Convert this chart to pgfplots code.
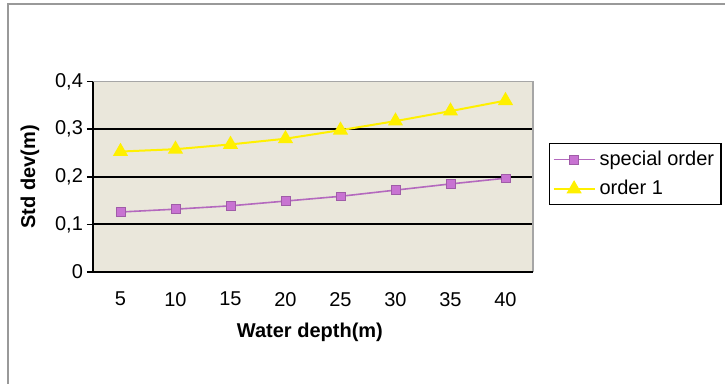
\documentclass[border=0pt]{standalone}
\usepackage{pgfplots}
\pgfplotsset{compat=1.18}
\usepackage{fontspec}
\setmainfont{Liberation Sans}
\definecolor{plotbg}{RGB}{234,231,219}
\definecolor{sqpurple}{RGB}{200,115,210}
\definecolor{sqline}{RGB}{180,105,190}
\definecolor{triyel}{RGB}{255,240,0}
\begin{document}
\begin{tikzpicture}
\useasboundingbox (-46.5pt,-56pt) rectangle (316pt,136pt);
\draw[gray!80, line width=0.8pt] (-42.5pt,-56pt) -- (-42.5pt,134pt) -- (316pt,134pt);
\begin{axis}[
  at={(0pt,0pt)}, anchor=south west,
  scale only axis, width=220pt, height=95.2pt,
  xmin=2.5, xmax=42.5, ymin=0, ymax=0.4,
  axis background/.style={fill=plotbg},
  axis line style={draw=none},
  xtick pos=bottom, ytick pos=left,
  xtick={5,10,...,40},
  major x tick style={draw=none},
  extra x ticks={2.5,7.5,...,42.5},
  extra x tick labels={},
  extra x tick style={major tick length=5pt, tick style={black, line width=0.8pt}},
  ytick={0,0.1,...,0.4},
  yticklabel style={xshift=1.5pt, /pgf/number format/.cd, fixed, precision=1, use comma},
  /pgf/number format/assume math mode=true,
  tick align=outside,
  major tick length=3pt,
  tick style={black, line width=0.8pt},
  ticklabel style={font=\fontsize{10}{12}\selectfont},
  xticklabel style={yshift=-3.5pt},
  xlabel={\textbf{Water depth(m)}},
  ylabel={\textbf{Std dev(m)}},
  label style={font=\fontsize{10}{12}\selectfont},
  xlabel style={at={(axis description cs:0.493,-0.315)}, anchor=center},
  ylabel style={at={(axis description cs:-0.143,0.5)}, anchor=center},
  clip=false,
  legend style={at={(axis description cs:1.036,0.678)}, anchor=north west,
    draw=black, line width=0.8pt, fill=white, font=\fontsize{10}{12}\selectfont,
    inner sep=1.5pt, row sep=2pt, cells={anchor=west}},
  legend image code/.code={
    \draw[mark repeat=2,mark phase=2] plot coordinates {(0cm,0cm) (0.36cm,0cm) (0.72cm,0cm)};},
]
\draw[black, line width=1pt] (axis cs:2.5,0.1) -- (axis cs:42.5,0.1);
\draw[black, line width=1pt] (axis cs:2.5,0.2) -- (axis cs:42.5,0.2);
\draw[black, line width=1pt] (axis cs:2.5,0.3) -- (axis cs:42.5,0.3);
\draw[gray!70, line width=0.6pt] (rel axis cs:0,1) -- (rel axis cs:1,1) -- (rel axis cs:1,0);
\draw[black, line width=1pt] (rel axis cs:0,1) -- (rel axis cs:0,0) -- (rel axis cs:1,0);
\addplot[sqline, line width=0.8pt, mark=square*, mark size=2.2pt, mark options={fill=sqpurple, draw=sqpurple!80!black, line width=0.3pt}]
  coordinates {(5,0.126) (10,0.132) (15,0.139) (20,0.149) (25,0.159) (30,0.172) (35,0.185) (40,0.197)};
\addlegendentry{special order}
\addplot[triyel, line width=1pt, mark=triangle*, mark size=3.4pt, mark options={fill=triyel, draw=triyel}]
  coordinates {(5,0.253) (10,0.258) (15,0.268) (20,0.280) (25,0.298) (30,0.317) (35,0.338) (40,0.360)};
\addlegendentry{order 1}
\end{axis}
\end{tikzpicture}
\end{document}
